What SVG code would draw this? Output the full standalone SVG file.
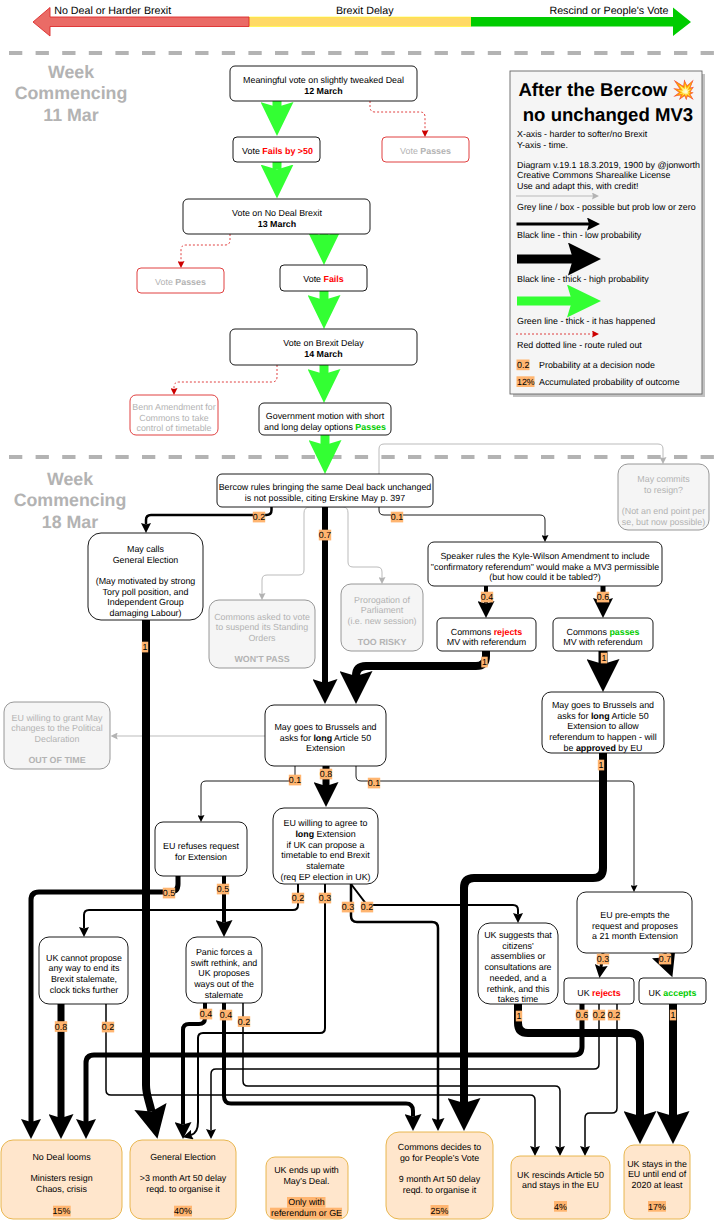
<svg xmlns="http://www.w3.org/2000/svg" width="715" height="1220" viewBox="0 0 715 1220">
<style>
text{font-family:"Liberation Sans",Arial,"Noto Color Emoji",sans-serif;font-size:8.9px;fill:#000;text-rendering:geometricPrecision}
.m{text-anchor:middle}
.g{fill:#b3b3b3}
.b{font-weight:bold}
.rd{font-weight:bold;fill:#ff0000}
.gn{font-weight:bold;fill:#00cc00}
.wk{font-size:17.8px;font-weight:bold;fill:#b3b3b3;text-anchor:middle}
.ax{font-size:10.7px;text-anchor:middle}
.ttl{font-size:18.6px;font-weight:bold;text-anchor:middle}
.n{fill:#fff;stroke:#000;stroke-width:.9}
.x{fill:#fff;stroke:#dd2b2b;stroke-width:.9}
.y{fill:#f5f5f5;stroke:#8c8c8c;stroke-width:.9}
.o{fill:#ffe6cc;stroke:#e5b040;stroke-width:.9}
.h{fill:#ffb570}
.sep{stroke:#b3b3b3;stroke-width:4;stroke-dasharray:13.3 13.3;fill:none}
#connectors path,#legend path{fill:none;stroke:#000}
#connectors .gr,#legend .gr{stroke:#33ff33;stroke-width:9}
#connectors .ge,#legend .ge{stroke:#b3b3b3;stroke-width:.9}
#connectors .re,#legend .re{stroke:#dd2b2b;stroke-width:.9;stroke-dasharray:2 2}
.w1{stroke-width:.9}.w15{stroke-width:1.5}.w2{stroke-width:2}.w25{stroke-width:2.5}.w3{stroke-width:3}.w4{stroke-width:4}.w5{stroke-width:5}.w6{stroke-width:6}.w7{stroke-width:7}.w8{stroke-width:8}.w9{stroke-width:9}
</style>
<defs>
<marker id="k1" markerUnits="userSpaceOnUse" viewBox="0 0 7 7" markerWidth="7" markerHeight="7" refX="1" refY="3.5" orient="auto"><path d="M7,3.5L0,0L1,3.5L0,7Z"/></marker>
<marker id="k2" markerUnits="userSpaceOnUse" viewBox="0 0 10 10" markerWidth="10" markerHeight="10" refX="1.5" refY="5" orient="auto"><path d="M10,5L0,0L1.5,5L0,10Z"/></marker>
<marker id="k3" markerUnits="userSpaceOnUse" viewBox="0 0 13 13" markerWidth="13" markerHeight="13" refX="2" refY="6.5" orient="auto"><path d="M13,6.5L0,0L2,6.5L0,13Z"/></marker>
<marker id="k4" markerUnits="userSpaceOnUse" viewBox="0 0 17 17" markerWidth="17" markerHeight="17" refX="2.5" refY="8.5" orient="auto"><path d="M17,8.5L0,0L2.5,8.5L0,17Z"/></marker>
<marker id="k5" markerUnits="userSpaceOnUse" viewBox="0 0 20 20" markerWidth="20" markerHeight="20" refX="3" refY="10" orient="auto"><path d="M20,10L0,0L3,10L0,20Z"/></marker>
<marker id="k6" markerUnits="userSpaceOnUse" viewBox="0 0 25 25" markerWidth="25" markerHeight="25" refX="4" refY="12.5" orient="auto"><path d="M25,12.5L0,0L4,12.5L0,25Z"/></marker>
<marker id="k8" markerUnits="userSpaceOnUse" viewBox="0 0 33 33" markerWidth="33" markerHeight="33" refX="5" refY="16.5" orient="auto"><path d="M33,16.5L0,0L5,16.5L0,33Z"/></marker>
<marker id="g9" markerUnits="userSpaceOnUse" viewBox="0 0 34 33" markerWidth="34" markerHeight="33" refX="5" refY="16.5" orient="auto"><path d="M34,16.5L0,0L5,16.5L0,33Z" fill="#33ff33"/></marker>
<marker id="e1" markerUnits="userSpaceOnUse" viewBox="0 0 7 7" markerWidth="7" markerHeight="7" refX="1" refY="3.5" orient="auto"><path d="M7,3.5L0,0L1,3.5L0,7Z" fill="#b3b3b3"/></marker>
<marker id="r1" markerUnits="userSpaceOnUse" viewBox="0 0 7 7" markerWidth="7" markerHeight="7" refX="1" refY="3.5" orient="auto"><path d="M7,3.5L0,0L1,3.5L0,7Z" fill="#cc0000"/></marker>
</defs>
<rect width="715" height="1220" fill="#fff"/>

<g id="axis">
<rect x="249" y="17" width="222" height="9.5" fill="#ffd966" stroke="#ffff00" stroke-width=".5"/>
<path d="M249,17H50V7.5L33,22L50,36V26.5H249Z" fill="#ea6b66" stroke="#dd2b2b" stroke-width=".9"/>
<path d="M471,17H673V7.5L691,22L673,36V26.5H471Z" fill="#00cc00"/>
<text class="ax" x="112.7" y="14">No Deal or Harder Brexit</text>
<text class="ax" x="364.7" y="14">Brexit Delay</text>
<text class="ax" x="609" y="14">Rescind or People's Vote</text>
</g>
<path class="sep" d="M9,53H715"/>
<path class="sep" d="M9,457H715"/>
<g id="week1"><text class="wk" x="71" y="78">Week</text><text class="wk" x="71" y="99.3">Commencing</text><text class="wk" x="71" y="120.6">11 Mar</text></g>
<g id="week2"><text class="wk" x="70" y="485">Week</text><text class="wk" x="70" y="506.3">Commencing</text><text class="wk" x="70" y="527.6">18 Mar</text></g>

<g id="connectors">
<path class="gr" d="M277,101V107" marker-end="url(#g9)"/>
<path class="gr" d="M277,162V169.5" marker-end="url(#g9)"/>
<path class="gr" d="M324,234V236" marker-end="url(#g9)"/>
<path class="gr" d="M324,291V300" marker-end="url(#g9)"/>
<path class="gr" d="M324,365V374" marker-end="url(#g9)"/>
<path class="gr" d="M325,435V445" marker-end="url(#g9)"/>
<path class="re" d="M370,101V107Q370,112 375,112H420Q425,112 425,117V131" marker-end="url(#r1)"/>
<path class="re" d="M230,234V240Q230,245 225,245H186Q181,245 181,250V262" marker-end="url(#r1)"/>
<path class="re" d="M277,365V377Q277,382 272,382H179Q174,382 174,387V389" marker-end="url(#r1)"/>
<path class="ge" d="M379,474V449Q379,444 384,444H658Q663,444 663,449V458" marker-end="url(#e1)"/>
<path class="ge" d="M325,507H310Q304,507 304,513V570Q304,575 299,575H267Q262,575 262,580V594" marker-end="url(#e1)"/>
<path class="ge" d="M325,507H343Q348,507 348,513V562Q348,567 353,567H377Q382,567 382,572V578" marker-end="url(#e1)"/>
<path class="ge" d="M265,736H116.7" marker-end="url(#e1)"/>
<path class="w25" d="M271.5,507V510Q271.5,515 266.5,515H151Q146,515 146,520V524.5" marker-end="url(#k2)"/>
<path class="w6" d="M325,507V683" marker-end="url(#k6)"/>
<path class="w1" d="M379,507V510Q379,515 384,515H540Q545,515 545,520V536" marker-end="url(#k1)"/>
<path class="w4" d="M486,586V603.5" marker-end="url(#k4)"/>
<path class="w5" d="M603,586V601" marker-end="url(#k5)"/>
<path class="w8" d="M486,651V656Q486,666 476,666H366Q356,666 356,676" marker-end="url(#k8)"/>
<path class="w9" d="M603,651V664" marker-end="url(#k8)"/>
<path class="w8" d="M146,620V1085C146,1095 149,1100 151.5,1111.5" marker-end="url(#k8)"/>
<path class="w1" d="M295,766V781H206Q201,781 201,786V816" marker-end="url(#k1)"/>
<path class="w7" d="M326,766V786" marker-end="url(#k6)"/>
<path class="w1" d="M356,766V776Q356,781 361,781H629Q634,781 634,786V886" marker-end="url(#k1)"/>
<path class="w5" d="M178,876V884Q178,892 170,892H39Q31,892 31,900V1122" marker-end="url(#k5)"/>
<path class="w4" d="M224,876V922.5" marker-end="url(#k4)"/>
<path class="w2" d="M298,884V905Q298,910 293,910H89Q84,910 84,915V928.5" marker-end="url(#k2)"/>
<path class="w2" d="M325,884V1028Q325,1033 320,1033H203Q198,1033 198,1038V1122Q198,1133 191,1135" marker-end="url(#k2)"/>
<path class="w25" d="M351,884V916Q351,922 357,922H432Q438,922 438,928V1120" marker-end="url(#k3)"/>
<path class="w2" d="M351,884L367,905H513Q518,905 518,910V914.5" marker-end="url(#k2)"/>
<path class="w4" d="M205,1003V1018Q205,1024 199,1024H189Q183,1024 183,1030V1124.5" marker-end="url(#k4)"/>
<path class="w4" d="M224,1003V1096Q224,1103.5 231,1103.5H406Q413,1103.5 413,1111V1116.5" marker-end="url(#k4)"/>
<path class="w15" d="M243,1003V1081Q243,1086 248,1086H555Q560,1086 560,1091V1147.5" marker-end="url(#k2)"/>
<path class="w15" d="M106,1004V1090Q106,1095 111,1095H530Q535,1095 535,1100V1147.5" marker-end="url(#k2)"/>
<path class="w7" d="M61,1004V1118" marker-end="url(#k6)"/>
<path class="w5" d="M582,1004V1047Q582,1055 574,1055H94Q86,1055 86,1063V1122" marker-end="url(#k5)"/>
<path class="w15" d="M599,1004V1064Q599,1069 594,1069H216Q211,1069 211,1074V1130.5" marker-end="url(#k2)"/>
<path class="w15" d="M617,1004V1108Q617,1113 612,1113H590Q585,1113 585,1118V1147.5" marker-end="url(#k2)"/>
<path class="w8" d="M518,1004V1023Q518,1033 528,1033H630Q640,1033 640,1043V1116" marker-end="url(#k8)"/>
<path class="w8" d="M673,1004V1116" marker-end="url(#k8)"/>
<path class="w8" d="M603,753V868Q603,878 593,878H474Q464,878 464,888V1103" marker-end="url(#k8)"/>
<path class="w3" d="M603,953L601,967" marker-end="url(#k3)"/>
<path class="w6" d="M663.5,953.5L665,957.5" marker-end="url(#k6)"/>
</g>

<g id="n1"><rect class="n" x="230" y="66" width="187" height="35" rx="5"/><text class="m" x="323.5"><tspan x="323.5" y="83">Meaningful vote on slightly tweaked Deal</tspan><tspan x="323.5" y="93.7" class="b">12 March</tspan></text></g>
<g id="n2"><rect class="n" x="233" y="137" width="87" height="25" rx="4"/><text class="m" x="277.5" y="153.8">Vote <tspan class="rd">Fails by &gt;50</tspan></text></g>
<g id="n3"><rect class="x" x="382" y="137" width="87" height="25" rx="4"/><text class="m g" x="425.5" y="153.8">Vote <tspan class="b g">Passes</tspan></text></g>
<g id="n4"><rect class="n" x="183" y="199" width="187" height="35" rx="5"/><text class="m" x="277"><tspan x="277" y="216">Vote on No Deal Brexit</tspan><tspan x="277" y="226.7" class="b">13 March</tspan></text></g>
<g id="n5"><rect class="x" x="137" y="268" width="87" height="25" rx="4"/><text class="m g" x="180.5" y="285">Vote <tspan class="b g">Passes</tspan></text></g>
<g id="n6"><rect class="n" x="280" y="265" width="87" height="26" rx="4"/><text class="m" x="323.5" y="282">Vote <tspan class="rd">Fails</tspan></text></g>
<g id="n7"><rect class="n" x="230" y="329" width="187" height="36" rx="5"/><text class="m" x="323.5"><tspan x="323.5" y="346.3">Vote on Brexit Delay</tspan><tspan x="323.5" y="357" class="b">14 March</tspan></text></g>
<g id="n8"><rect class="x" x="130" y="395" width="88" height="40" rx="6"/><text class="m g"><tspan x="174" y="410">Benn Amendment for</tspan><tspan x="174" y="420.7">Commons to take</tspan><tspan x="174" y="431.4">control of timetable</tspan></text></g>
<g id="n9"><rect class="n" x="259" y="403" width="132" height="32" rx="5"/><text class="m"><tspan x="325" y="419">Government motion with short</tspan><tspan x="325" y="429.7">and long delay options <tspan class="gn">Passes</tspan></tspan></text></g>
<g id="n10"><rect class="n" x="217" y="474" width="216" height="33" rx="5"/><text class="m"><tspan x="325" y="490">Bercow rules bringing the same Deal back unchanged</tspan><tspan x="325" y="500.7">is not possible, citing Erskine May p. 397</tspan></text></g>
<g id="n11"><rect class="n" x="88" y="533" width="115" height="87" rx="13"/><text class="m"><tspan x="145.5" y="552">May calls</tspan><tspan x="145.5" y="562.7">General Election</tspan><tspan x="145.5" y="584">(May motivated by strong</tspan><tspan x="145.5" y="594.7">Tory poll position, and</tspan><tspan x="145.5" y="605.4">Independent Group</tspan><tspan x="145.5" y="616">damaging Labour)</tspan></text></g>
<g id="n12"><rect class="y" x="209" y="600" width="106" height="68" rx="10"/><text class="m g"><tspan x="262" y="619.5">Commons asked to vote</tspan><tspan x="262" y="630.2">to suspend its Standing</tspan><tspan x="262" y="640.9">Orders</tspan><tspan x="262" y="662.3" class="b g">WON'T PASS</tspan></text></g>
<g id="n13"><rect class="y" x="341" y="584" width="82" height="67" rx="10"/><text class="m g"><tspan x="382" y="602.5">Prorogation of</tspan><tspan x="382" y="613.2">Parliament</tspan><tspan x="382" y="623.9">(i.e. new session)</tspan><tspan x="382" y="645.3" class="b g">TOO RISKY</tspan></text></g>
<g id="n14"><rect class="y" x="618" y="464" width="91" height="66" rx="10"/><text class="m g"><tspan x="663.5" y="482">May commits</tspan><tspan x="663.5" y="492.7">to resign?</tspan><tspan x="663.5" y="514">(Not an end point per</tspan><tspan x="663.5" y="524.8">se, but now possible)</tspan></text></g>
<g id="n15"><rect class="n" x="428" y="542" width="234" height="44" rx="6"/><text class="m"><tspan x="545" y="559">Speaker rules the Kyle-Wilson Amendment to include</tspan><tspan x="545" y="569.7">"confirmatory referendum" would make a MV3 permissible</tspan><tspan x="545" y="580.4">(but how could it be tabled?)</tspan></text></g>
<g id="n16"><rect class="n" x="437" y="618" width="99" height="33" rx="5"/><text class="m"><tspan x="486.5" y="634.5">Commons <tspan class="rd">rejects</tspan></tspan><tspan x="486.5" y="645.2">MV with referendum</tspan></text></g>
<g id="n17"><rect class="n" x="553" y="618" width="100" height="33" rx="5"/><text class="m"><tspan x="603" y="634.5">Commons <tspan class="gn">passes</tspan></tspan><tspan x="603" y="645.2">MV with referendum</tspan></text></g>
<g id="n18"><rect class="n" x="542" y="692" width="122" height="61" rx="9"/><text class="m"><tspan x="603" y="708">May goes to Brussels and</tspan><tspan x="603" y="718.7">asks for <tspan class="b">long</tspan> Article 50</tspan><tspan x="603" y="729.4">Extension to allow</tspan><tspan x="603" y="740">referendum to happen - will</tspan><tspan x="603" y="750.7">be <tspan class="b">approved</tspan> by EU</tspan></text></g>
<g id="n19"><rect class="y" x="4" y="702" width="106" height="67" rx="10"/><text class="m g"><tspan x="57" y="720.5">EU willing to grant May</tspan><tspan x="57" y="731.2">changes to the Political</tspan><tspan x="57" y="741.9">Declaration</tspan><tspan x="57" y="763.3" class="b g">OUT OF TIME</tspan></text></g>
<g id="n20"><rect class="n" x="265" y="705" width="121" height="61" rx="9"/><text class="m"><tspan x="325.5" y="730">May goes to Brussels and</tspan><tspan x="325.5" y="740.7">asks for <tspan class="b">long</tspan> Article 50</tspan><tspan x="325.5" y="751.4">Extension</tspan></text></g>
<g id="n21"><rect class="n" x="155" y="822" width="92" height="54" rx="8"/><text class="m"><tspan x="201" y="849">EU refuses request</tspan><tspan x="201" y="859.7">for Extension</tspan></text></g>
<g id="n22"><rect class="n" x="273" y="808" width="105" height="76" rx="11"/><text class="m"><tspan x="325.5" y="826.3">EU willing to agree to</tspan><tspan x="325.5" y="837"><tspan class="b">long</tspan> Extension</tspan><tspan x="325.5" y="847.7">if UK can propose a</tspan><tspan x="325.5" y="858.4">timetable to end Brexit</tspan><tspan x="325.5" y="869">stalemate</tspan><tspan x="325.5" y="879.7">(req EP election in UK)</tspan></text></g>
<g id="n23"><rect class="n" x="186" y="937" width="76" height="66" rx="11"/><text class="m"><tspan x="224" y="955">Panic forces a</tspan><tspan x="224" y="965.7">swift rethink, and</tspan><tspan x="224" y="976.4">UK proposes</tspan><tspan x="224" y="987">ways out of the</tspan><tspan x="224" y="997.8">stalemate</tspan></text></g>
<g id="n24"><rect class="n" x="39" y="937" width="89" height="67" rx="10"/><text class="m"><tspan x="84" y="960.5">UK cannot propose</tspan><tspan x="84" y="971.2">any way to end its</tspan><tspan x="84" y="981.9">Brexit stalemate,</tspan><tspan x="84" y="992.6">clock ticks further</tspan></text></g>
<g id="n25"><rect class="n" x="478" y="923" width="80" height="81" rx="12"/><text class="m"><tspan x="518" y="938">UK suggests that</tspan><tspan x="518" y="948.7">citizens'</tspan><tspan x="518" y="959.4">assemblies or</tspan><tspan x="518" y="970">consultations are</tspan><tspan x="518" y="980.8">needed, and a</tspan><tspan x="518" y="991.5">rethink, and this</tspan><tspan x="518" y="1002">takes time</tspan></text></g>
<g id="n26"><rect class="n" x="577" y="892" width="115" height="61" rx="9"/><text class="m"><tspan x="635" y="918">EU pre-empts the</tspan><tspan x="635" y="928.7">request and proposes</tspan><tspan x="635" y="939.4">a 21 month Extension</tspan></text></g>
<g id="n27"><rect class="n" x="564" y="978" width="70" height="26" rx="4"/><text class="m" x="599" y="995.7">UK <tspan class="rd">rejects</tspan></text></g>
<g id="n28"><rect class="n" x="639" y="978" width="67" height="26" rx="4"/><text class="m" x="672.5" y="995.7">UK <tspan class="gn">accepts</tspan></text></g>

<g id="o1"><rect class="o" x="1" y="1140" width="121" height="79" rx="12"/><rect class="h" x="53" y="1205.7" width="17.7" height="10.7"/><text class="m"><tspan x="61.5" y="1159.7">No Deal looms</tspan><tspan x="61.5" y="1181">Ministers resign</tspan><tspan x="61.5" y="1191.8">Chaos, crisis</tspan><tspan x="61.5" y="1213.5">15%</tspan></text></g>
<g id="o2"><rect class="o" x="130" y="1140" width="106" height="79" rx="12"/><rect class="h" x="174" y="1205.7" width="18" height="10.7"/><text class="m"><tspan x="183" y="1159.7">General Election</tspan><tspan x="183" y="1181">&gt;3 month Art 50 delay</tspan><tspan x="183" y="1191.8">reqd. to organise it</tspan><tspan x="183" y="1213.5">40%</tspan></text></g>
<g id="o3"><rect class="o" x="266" y="1157" width="82" height="62" rx="9"/><rect class="h" x="287" y="1197" width="38.5" height="10.7"/><rect class="h" x="270" y="1207.7" width="72" height="10.7"/><text class="m"><tspan x="306.5" y="1173">UK ends up with</tspan><tspan x="306.5" y="1183.7">May's Deal.</tspan><tspan x="306.5" y="1205">Only with</tspan><tspan x="306.5" y="1215.8">referendum or GE</tspan></text></g>
<g id="o4"><rect class="o" x="386" y="1132" width="107" height="87" rx="13"/><rect class="h" x="430.5" y="1205" width="18" height="10.7"/><text class="m"><tspan x="439.5" y="1150">Commons decides to</tspan><tspan x="439.5" y="1160.7">go for People's Vote</tspan><tspan x="439.5" y="1182">9 month Art 50 delay</tspan><tspan x="439.5" y="1192.8">reqd. to organise it</tspan><tspan x="439.5" y="1213.5">25%</tspan></text></g>
<g id="o5"><rect class="o" x="511" y="1156" width="99" height="63" rx="9"/><rect class="h" x="554" y="1201" width="13" height="10.7"/><text class="m"><tspan x="560.5" y="1177.7">UK rescinds Article 50</tspan><tspan x="560.5" y="1188">and stays in the EU</tspan><tspan x="560.5" y="1209.5">4%</tspan></text></g>
<g id="o6"><rect class="o" x="624" y="1145" width="66" height="74" rx="10"/><rect class="h" x="648" y="1201" width="18" height="10.7"/><text class="m"><tspan x="657" y="1166.7">UK stays in the</tspan><tspan x="657" y="1177.4">EU until end of</tspan><tspan x="657" y="1188">2020 at least</tspan><tspan x="657" y="1209.5">17%</tspan></text></g>

<g id="labels">
<g id="l1"><rect class="h" x="252.8" y="511.7" width="12.4" height="10.7"/><text class="m" x="259" y="520.2">0.2</text></g>
<g id="l2"><rect class="h" x="318.8" y="529.7" width="12.4" height="10.7"/><text class="m" x="325" y="538.2">0.7</text></g>
<g id="l3"><rect class="h" x="390.8" y="511.7" width="12.4" height="10.7"/><text class="m" x="397" y="520.2">0.1</text></g>
<g id="l4"><rect class="h" x="480.8" y="591.7" width="12.4" height="10.7"/><text class="m" x="487" y="600.2">0.4</text></g>
<g id="l5"><rect class="h" x="596.8" y="591.7" width="12.4" height="10.7"/><text class="m" x="603" y="600.2">0.6</text></g>
<g id="l6"><rect class="h" x="481.3" y="656.7" width="6.4" height="10.7"/><text class="m" x="484.5" y="665.2">1</text></g>
<g id="l7"><rect class="h" x="600.8" y="652.7" width="6.4" height="10.7"/><text class="m" x="604" y="661.2">1</text></g>
<g id="l8"><rect class="h" x="141.8" y="641.7" width="6.4" height="10.7"/><text class="m" x="145" y="650.2">1</text></g>
<g id="l9"><rect class="h" x="288.8" y="774.7" width="12.4" height="10.7"/><text class="m" x="295" y="783.2">0.1</text></g>
<g id="l10"><rect class="h" x="319.8" y="768.7" width="12.4" height="10.7"/><text class="m" x="326" y="777.2">0.8</text></g>
<g id="l11"><rect class="h" x="367.8" y="777.7" width="12.4" height="10.7"/><text class="m" x="374" y="786.2">0.1</text></g>
<g id="l12"><rect class="h" x="162.8" y="887.7" width="12.4" height="10.7"/><text class="m" x="169" y="896.2">0.5</text></g>
<g id="l13"><rect class="h" x="216.8" y="883.7" width="12.4" height="10.7"/><text class="m" x="223" y="892.2">0.5</text></g>
<g id="l14"><rect class="h" x="291.8" y="892.7" width="12.4" height="10.7"/><text class="m" x="298" y="901.2">0.2</text></g>
<g id="l15"><rect class="h" x="318.8" y="892.7" width="12.4" height="10.7"/><text class="m" x="325" y="901.2">0.3</text></g>
<g id="l16"><rect class="h" x="341.8" y="901.7" width="12.4" height="10.7"/><text class="m" x="348" y="910.2">0.3</text></g>
<g id="l17"><rect class="h" x="360.8" y="901.7" width="12.4" height="10.7"/><text class="m" x="367" y="910.2">0.2</text></g>
<g id="l18"><rect class="h" x="597.8" y="759.7" width="6.4" height="10.7"/><text class="m" x="601" y="768.2">1</text></g>
<g id="l19"><rect class="h" x="596.8" y="953.7" width="12.4" height="10.7"/><text class="m" x="603" y="962.2">0.3</text></g>
<g id="l20"><rect class="h" x="658.8" y="953.7" width="12.4" height="10.7"/><text class="m" x="665" y="962.2">0.7</text></g>
<g id="l21"><rect class="h" x="515.8" y="1010.7" width="6.4" height="10.7"/><text class="m" x="519" y="1019.2">1</text></g>
<g id="l22"><rect class="h" x="575.8" y="1009.7" width="12.4" height="10.7"/><text class="m" x="582" y="1018.2">0.6</text></g>
<g id="l23"><rect class="h" x="592.8" y="1009.7" width="12.4" height="10.7"/><text class="m" x="599" y="1018.2">0.2</text></g>
<g id="l24"><rect class="h" x="607.8" y="1009.7" width="12.4" height="10.7"/><text class="m" x="614" y="1018.2">0.2</text></g>
<g id="l25"><rect class="h" x="669.8" y="1009.7" width="6.4" height="10.7"/><text class="m" x="673" y="1018.2">1</text></g>
<g id="l26"><rect class="h" x="54.8" y="1021.2" width="12.4" height="10.7"/><text class="m" x="61" y="1029.7">0.8</text></g>
<g id="l27"><rect class="h" x="101.8" y="1021.7" width="12.4" height="10.7"/><text class="m" x="108" y="1030.2">0.2</text></g>
<g id="l28"><rect class="h" x="199.8" y="1008.7" width="12.4" height="10.7"/><text class="m" x="206" y="1017.2">0.4</text></g>
<g id="l29"><rect class="h" x="219.8" y="1009.7" width="12.4" height="10.7"/><text class="m" x="226" y="1018.2">0.4</text></g>
<g id="l30"><rect class="h" x="237.8" y="1016.2" width="12.4" height="10.7"/><text class="m" x="244" y="1024.7">0.2</text></g>
</g>

<g id="legend">
<rect x="513" y="74" width="192" height="323" fill="#999" opacity=".6"/>
<rect x="510" y="71" width="192" height="323" fill="#f5f5f5" stroke="#666" stroke-width=".9"/>
<text class="ttl" x="607" y="96">After the Bercow 💥</text>
<text class="ttl" x="608" y="121">no unchanged MV3</text>
<text x="517" y="137">X-axis - harder to softer/no Brexit</text>
<text x="517" y="148">Y-axis - time.</text>
<text x="517" y="167.7">Diagram v.19.1 18.3.2019, 1900 by @jonworth</text>
<text x="517" y="178">Creative Commons Sharealike License</text>
<text x="517" y="189">Use and adapt this, with credit!</text>
<path class="ge" d="M516,196H593" marker-end="url(#e1)"/>
<text x="517" y="210">Grey line / box - possible but prob low or zero</text>
<path class="w3" d="M516.5,224H589" marker-end="url(#k3)"/>
<text x="517" y="237.5">Black line - thin - low probability</text>
<path class="w9" d="M517,259H573" marker-end="url(#k8)"/>
<text x="517" y="282">Black line - thick - high probability</text>
<path class="gr" d="M517,301H572" marker-end="url(#g9)"/>
<text x="517" y="324">Green line - thick - it has happened</text>
<path class="re" d="M516,334H593" marker-end="url(#r1)"/>
<text x="517" y="347.5">Red dotted line - route ruled out</text>
<rect class="h" x="516.5" y="359.5" width="13" height="10.7"/><text x="517" y="368">0.2</text>
<text x="539" y="368">Probability at a decision node</text>
<rect class="h" x="516.5" y="376.3" width="18" height="10.7"/><text x="517" y="385">12%</text>
<text x="539" y="385">Accumulated probability of outcome</text>
</g>
</svg>
